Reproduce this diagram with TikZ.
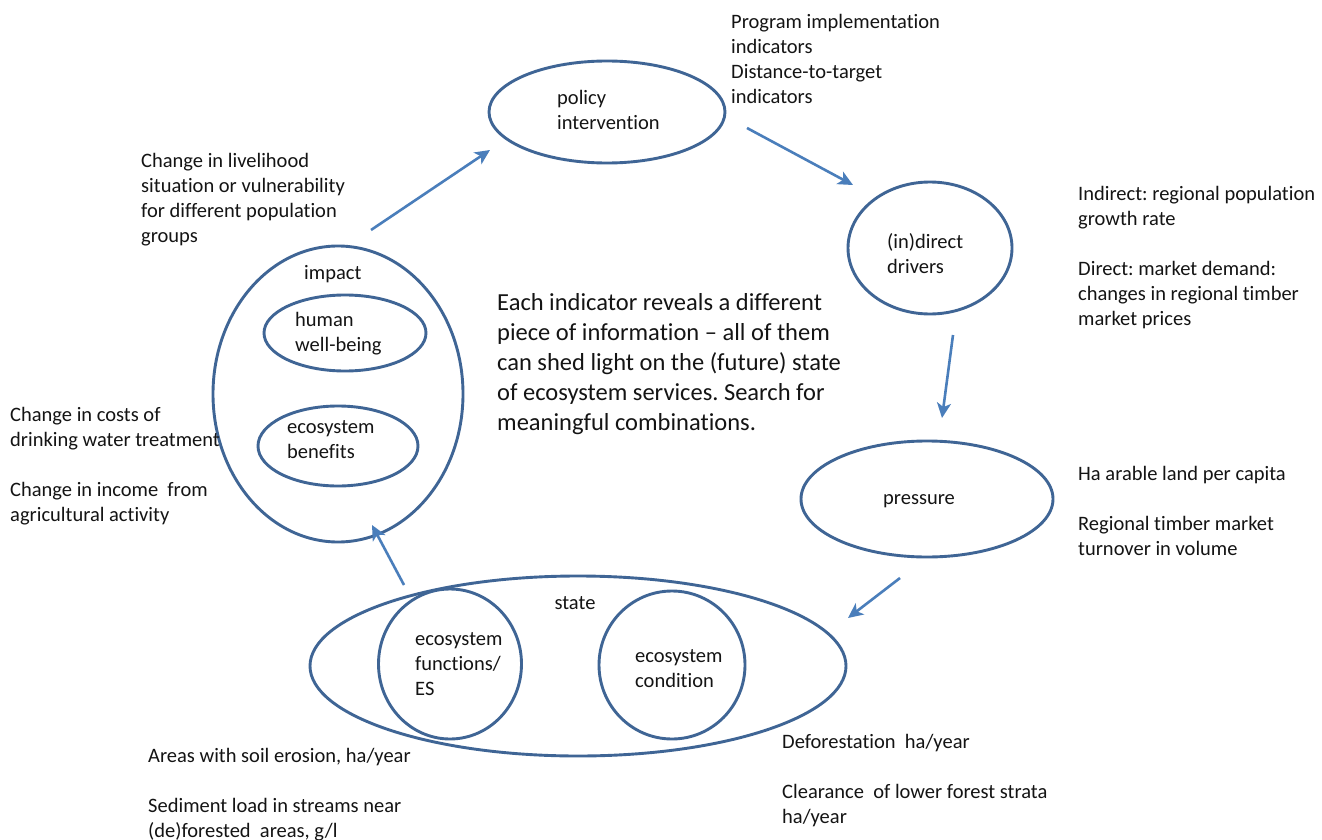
\documentclass[tikz,border=0pt]{standalone}
\usepackage{fontspec}
\setmainfont[RawFeature={-liga;-clig;-calt;-dlig;-rlig}]{Carlito}
\usetikzlibrary{arrows.meta,shapes.geometric}
\definecolor{ellc}{HTML}{3F6595}
\definecolor{arrc}{HTML}{4A7EBB}
\definecolor{txtc}{HTML}{141414}
\newcommand{\smallfnt}{\fontsize{20.5}{25}\selectfont}
\newcommand{\bigfnt}{\fontsize{24.5}{30}\selectfont}
\frenchspacing
\begin{document}
\begin{tikzpicture}[x=1pt,y=-1pt,
  ell/.style={draw=ellc, line width=2.9pt, ellipse, inner sep=0pt},
  txt/.style={anchor=north west, inner sep=0pt, align=left, text=txtc, font=\smallfnt},
  bigtxt/.style={anchor=north west, inner sep=0pt, align=left, text=txtc, font=\bigfnt},
  arr/.style={draw=arrc, line width=2.6pt, -{Stealth[length=15pt,width=14pt,inset=4pt]}}]
\fill[white] (0,0) rectangle (1322,840);
\useasboundingbox (0,0) rectangle (1322,840);

% ellipses
\node[ell, minimum width=236pt, minimum height=102pt] (policy) at (607,112) {};
\node[ell, minimum width=164pt, minimum height=132pt] (drivers) at (930,248) {};
\node[ell, minimum width=252pt, minimum height=116pt] (pressure) at (927,499) {};
\node[ell, minimum width=536pt, minimum height=180pt] (state) at (578,666) {};
\node[ell, minimum width=143pt, minimum height=150pt] (functions) at (450,664) {};
\node[ell, minimum width=146pt, minimum height=148pt] (condition) at (672,665) {};
\node[ell, minimum width=250pt, minimum height=296pt] (impact) at (338,394) {};
\node[ell, minimum width=162pt, minimum height=76pt] (wellbeing) at (345,333) {};
\node[ell, minimum width=160pt, minimum height=80pt] (benefits) at (338,446) {};

% ellipse labels
\node[txt] (lpolicy) at (557,86.5) {\strut policy\\intervention};
\node[txt] (ldrivers) at (887,230.5) {\strut (in)direct\\drivers};
\node[txt, anchor=north] (lpressure) at (919,486.5) {\strut pressure};
\node[txt, anchor=north] (lstate) at (575,591.5) {\strut state};
\node[txt] (lfunctions) at (415,627.5) {\strut ecosystem\\functions/\\ES};
\node[txt] (lcondition) at (635,644.5) {\strut ecosystem\\condition};
\node[txt] (limpact) at (304,261.5) {\strut impact};
\node[txt] (lwellbeing) at (295,308.5) {\strut human\\well-being};
\node[txt] (lbenefits) at (287,415.5) {\strut ecosystem\\benefits};

% indicator texts
\node[txt] (tprog) at (731,10.5) {\strut Program implementation\\indicators\\Distance-to-target\\indicators};
\node[txt] (tlive) at (141,149.5) {\strut Change in livelihood\\situation or vulnerability\\for different population\\groups};
\node[txt] (tdrivers) at (1078,182.5) {\strut Indirect: regional population\\growth rate\\[25pt]Direct: market demand:\\changes in regional timber\\market prices};
\node[txt] (tcosts) at (10,403.5) {\strut Change in costs of\\drinking water treatment\\[25pt]Change in income\ \ from\\agricultural activity};
\node[txt] (tpress) at (1078,462.5) {\strut Ha arable land per capita\\[25pt]Regional timber market\\turnover in volume};
\node[txt] (tsoil) at (148,744.5) {\strut Areas with soil erosion, ha/year\\[25pt]Sediment load in streams near\\(de)forested\ \ areas, g/l};
\node[txt] (tdefor) at (782,730.5) {\strut Deforestation\ \ ha/year\\[25pt]Clearance\ \ of lower forest strata\\ha/year};
\node[bigtxt] (tcenter) at (497,289) {\strut Each indicator reveals a different\\piece of information -- all of them\\can shed light on the (future) state\\of ecosystem services. Search for\\meaningful combinations.};

% arrow end points
\coordinate (a1s) at (371,230); \coordinate (a1e) at (490,150);
\coordinate (a2s) at (747,128); \coordinate (a2e) at (853,185);
\coordinate (a3s) at (953,335); \coordinate (a3e) at (942,418);
\coordinate (a4s) at (900,578); \coordinate (a4e) at (848,618);
\coordinate (a5s) at (404,585); \coordinate (a5e) at (372,525);

\draw[arr] (a1s) -- (a1e);
\draw[arr] (a2s) -- (a2e);
\draw[arr] (a3s) -- (a3e);
\draw[arr] (a4s) -- (a4e);
\draw[arr] (a5s) -- (a5e);
\end{tikzpicture}
\end{document}
